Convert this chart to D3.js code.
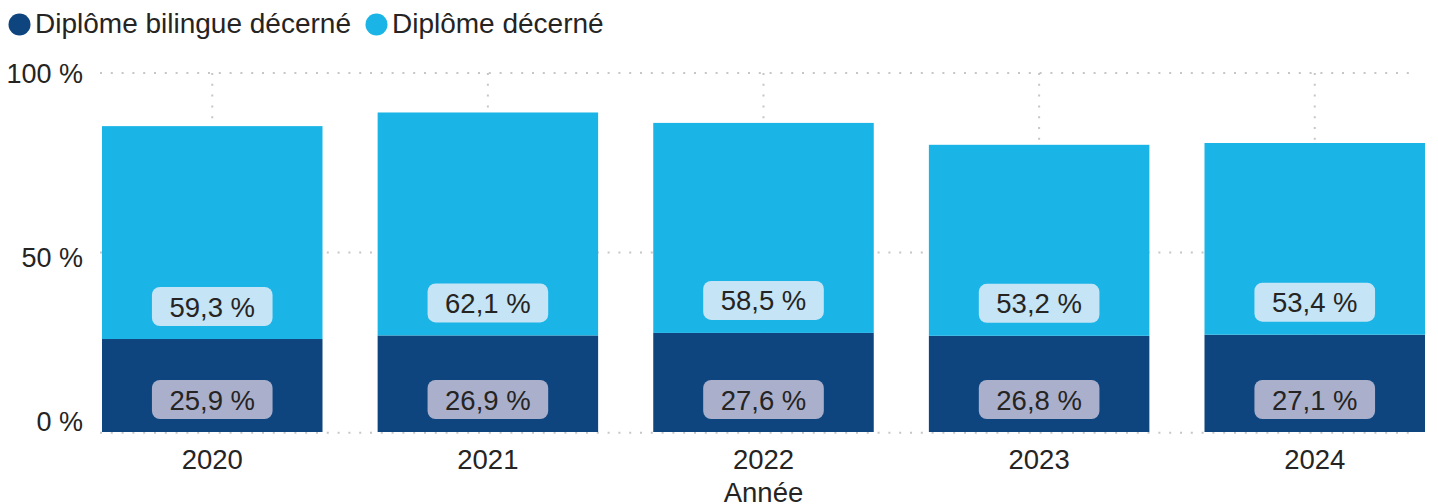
<!DOCTYPE html>
<html>
<head>
<meta charset="utf-8">
<script src="https://cdn.jsdelivr.net/npm/d3@7"></script>
<style>
  html, body { margin: 0; padding: 0; background: #ffffff; }
  svg { display: block; font-family: "Liberation Sans", Arial, sans-serif; }
</style>
</head>
<body>
<svg id="chart" width="1438" height="504"></svg>
<script>
// ---- data ----
const categories = ["2020", "2021", "2022", "2023", "2024"];
const seriesNames = ["Diplôme bilingue décerné", "Diplôme décerné"];
const bilingueValues = [25.9, 26.9, 27.6, 26.8, 27.1];
const decerneValues = [59.3, 62.1, 58.5, 53.2, 53.4];
const yTicks = [0, 50, 100];
const xTitle = "Année";

// ---- styling ----
const colors = ["#0e457e", "#1bb4e6"];
const labelBg = ["#aab0cc", "#c5e4f5"];
const textColor = "#252423";
const gridColor = "#c8c6c4";

const svg = d3.select("#chart");
const W = 1438, H = 504;
const plot = { left: 102, right: 1425, top: 73, bottom: 432 };

const locale = d3.formatLocale({ decimal: ",", thousands: "\u00a0", grouping: [3], currency: ["", " €"] });
const fmt1 = locale.format(".1f");

const x = d3.scaleBand().domain(categories).range([plot.left, plot.right]).paddingInner(0.2).paddingOuter(0);
const y = d3.scaleLinear().domain([0, 100]).range([plot.bottom, plot.top]);

const rows = categories.map((c, i) => ({ cat: c, a: bilingueValues[i], b: decerneValues[i] }));
const stack = d3.stack().keys(["a", "b"])(rows);

// ---- gridlines ----
const grid = svg.append("g");
grid.selectAll("line.h").data(yTicks).join("line")
  .attr("x1", 100).attr("x2", 1417)
  .attr("y1", d => y(d) + (d === 0 ? 0.8 : 0)).attr("y2", d => y(d) + (d === 0 ? 0.8 : 0))
  .attr("stroke", gridColor).attr("stroke-width", 2).attr("stroke-dasharray", "2 8.8");
grid.selectAll("line.v").data(categories).join("line")
  .attr("x1", d => x(d) + x.bandwidth() / 2).attr("x2", d => x(d) + x.bandwidth() / 2)
  .attr("y1", y(100)).attr("y2", y(0))
  .attr("stroke", gridColor).attr("stroke-width", 2).attr("stroke-dasharray", "2 8.8");

// ---- bars ----
const layers = svg.append("g").selectAll("g").data(stack).join("g")
  .attr("fill", (d, i) => colors[i]);
layers.selectAll("rect").data(d => d).join("rect")
  .attr("x", d => x(d.data.cat))
  .attr("width", x.bandwidth())
  .attr("y", d => y(d[1]))
  .attr("height", d => y(d[0]) - y(d[1]));

// ---- data labels (inside base) ----
const labelH = 39, padX = 17.5, gapBase = 13, fontSize = 27.5;
stack.forEach((layer, li) => {
  layer.forEach(d => {
    const val = d[1] - d[0];
    const cx = x(d.data.cat) + x.bandwidth() / 2;
    const bottom = y(d[0]) - gapBase;
    const g = svg.append("g");
    const t = g.append("text")
      .attr("x", cx).attr("y", bottom - labelH / 2 + 10)
      .attr("text-anchor", "middle")
      .attr("font-size", fontSize).attr("fill", textColor)
      .text(fmt1(Math.round(val * 10) / 10) + " %");
    const tw = t.node().getComputedTextLength();
    g.insert("rect", "text")
      .attr("x", cx - tw / 2 - padX).attr("y", bottom - labelH)
      .attr("width", tw + 2 * padX).attr("height", labelH)
      .attr("rx", 8).attr("ry", 8)
      .attr("fill", labelBg[li]);
  });
});

// ---- y axis labels ----
const yOffsets = { 0: -11, 50: 4, 100: 0 };
svg.append("g").selectAll("text").data(yTicks).join("text")
  .attr("x", 83).attr("y", d => y(d) + yOffsets[d] + 10)
  .attr("text-anchor", "end")
  .attr("font-size", 27).attr("fill", textColor)
  .text(d => d + " %");

// ---- x axis ----
const xAxis = svg.append("g").attr("transform", `translate(0,${plot.bottom})`)
  .call(d3.axisBottom(x).tickSize(0).tickPadding(0));
xAxis.select(".domain").remove();
xAxis.selectAll("text")
  .attr("font-size", 27.5).attr("fill", textColor)
  .attr("font-family", "Liberation Sans, Arial, sans-serif")
  .attr("dy", null).attr("y", 37);

svg.append("text")
  .attr("x", (plot.left + plot.right) / 2).attr("y", 501.5)
  .attr("text-anchor", "middle")
  .attr("font-size", 27.5).attr("fill", textColor)
  .text(xTitle);

// ---- legend ----
const legend = svg.append("g");
let lx = 8.5;
seriesNames.forEach((name, i) => {
  legend.append("circle").attr("cx", lx + 11).attr("cy", 24.5).attr("r", 11).attr("fill", colors[i]);
  const t = legend.append("text").attr("x", lx + 26.5).attr("y", 32.5)
    .attr("font-size", 28).attr("fill", textColor).text(name);
  lx = lx + 26.5 + t.node().getComputedTextLength() + 14.5;
});
</script>
</body>
</html>
